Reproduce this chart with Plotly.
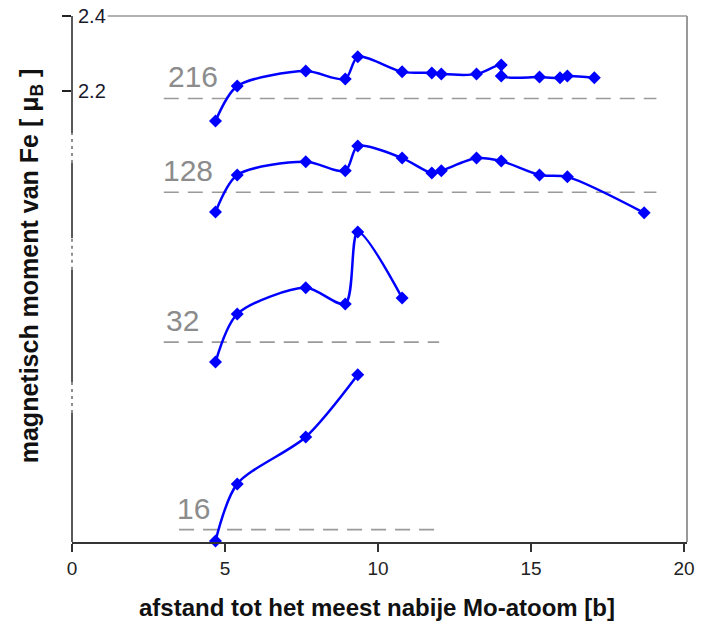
import plotly.graph_objects as go

# ---------------- data ----------------
series_names = ["216", "128", "32", "16"]

x_216 = [4.69, 5.40, 7.64, 8.93, 9.34, 10.79, 11.76, 12.07, 13.22, 14.03, 14.03, 15.28, 15.95, 16.19, 17.07]
m_216 = [2.120, 2.213, 2.253, 2.232, 2.291, 2.251, 2.248, 2.245, 2.245, 2.269, 2.240, 2.237, 2.235, 2.240, 2.235]

x_128 = [4.69, 5.40, 7.64, 8.93, 9.34, 10.79, 11.76, 12.07, 13.22, 14.03, 15.28, 16.19, 18.70]
m_128 = [2.127, 2.226, 2.261, 2.237, 2.303, 2.271, 2.231, 2.237, 2.271, 2.263, 2.226, 2.221, 2.125]

x_32 = [4.69, 5.40, 7.64, 8.93, 9.34, 10.79]
m_32 = [2.127, 2.255, 2.325, 2.282, 2.474, 2.298]

x_16 = [4.69, 5.40, 7.64, 9.34]
m_16 = [2.150, 2.302, 2.427, 2.593]

# vertical display shift of each curve on the broken axis
offsets = [0.0, 0.25, 0.65, 1.15]
# reference (bulk) moment shown as dashed line for each curve
reference_moment = 2.18
ref_x_ranges = [(3.0, 19.1), (3.0, 19.1), (3.0, 12.0), (3.5, 12.0)]
label_x = [3.07, 2.92, 3.0, 3.37]

xs = [x_216, x_128, x_32, x_16]
ms = [m_216, m_128, m_32, m_16]

y_ticks = [2.2, 2.4]
x_ticks = [0, 5, 10, 15, 20]

# axis-break positions (display units)
breaks = [(2.008, 2.088), (1.723, 1.808), (1.341, 1.424)]

Y_MIN, Y_MAX = 0.997, 2.4

BLUE = "#0000FF"
GREY = "#8c8c8c"
FONT = "Liberation Sans, Arial"

fig = go.Figure()

for name, x, m, off, (x0, x1) in zip(series_names, xs, ms, offsets, ref_x_ranges):
    ref = reference_moment - off
    fig.add_trace(go.Scatter(
        x=[x0, x1], y=[ref, ref], mode="lines",
        line=dict(color="#9a9a9a", width=1.6, dash="15px,9px"),
        hoverinfo="skip", showlegend=False))

for name, x, m, off in zip(series_names, xs, ms, offsets):
    fig.add_trace(go.Scatter(
        x=x, y=[v - off for v in m], mode="lines+markers", name=name,
        line=dict(color=BLUE, width=2.5, shape="spline", smoothing=0.8),
        marker=dict(symbol="diamond", size=10, color=BLUE),
        cliponaxis=False, showlegend=False))

annotations = []
for name, off, lx in zip(series_names, offsets, label_x):
    annotations.append(dict(
        x=lx, y=reference_moment - off, xref="x", yref="y",
        text=name, showarrow=False, xanchor="left", yanchor="bottom",
        yshift=3, font=dict(family=FONT, size=30, color=GREY)))

# y tick labels drawn just inside the axis
for v in y_ticks:
    annotations.append(dict(
        x=0, y=v, xref="paper", yref="y", text=f"{v:.1f}", showarrow=False,
        xanchor="left", yanchor="middle", xshift=4,
        font=dict(family=FONT, size=20, color="#1a1a2e")))

annotations.append(dict(
    x=-0.0676, y=0.525, xref="paper", yref="paper", textangle=-90,
    text="<b>magnetisch moment van Fe [ μ<sub>B</sub> ]</b>", showarrow=False,
    font=dict(family=FONT, size=25, color="#111"),
    xanchor="center", yanchor="middle"))
annotations.append(dict(
    x=0.496, y=-0.125, xref="paper", yref="paper",
    text="<b>afstand tot het meest nabije Mo-atoom [b]</b>", showarrow=False,
    font=dict(family=FONT, size=24, color="#111"),
    xanchor="center", yanchor="middle"))

shapes = []
# y axis line with breaks
edges = sorted([b for pair in breaks for b in pair])
solid = [(Y_MIN, edges[0]), (edges[1], edges[2]), (edges[3], edges[4]), (edges[5], Y_MAX)]
for a, b in solid:
    shapes.append(dict(type="line", xref="paper", yref="y", x0=0, x1=0, y0=a, y1=b,
                       line=dict(color="#222", width=1.5)))
for a, b in breaks:
    shapes.append(dict(type="line", xref="paper", yref="y", x0=0, x1=0, y0=a, y1=b,
                       line=dict(color="#444", width=1.2, dash="3px,4px")))
# top and right frame (grey)
shapes.append(dict(type="line", xref="paper", yref="paper", x0=0.058, x1=1, y0=1, y1=1,
                   line=dict(color="#999", width=1.5)))
shapes.append(dict(type="line", xref="paper", yref="paper", x0=1, x1=1, y0=0, y1=1,
                   line=dict(color="#999", width=2)))

fig.update_layout(
    width=706, height=630,
    margin=dict(l=72, r=13, t=16, b=88),
    paper_bgcolor="white", plot_bgcolor="white",
    showlegend=False,
    annotations=annotations,
    shapes=shapes,
    xaxis=dict(range=[0, 20.1], tickvals=x_ticks, ticks="outside", ticklen=8,
               tickwidth=1.5, tickcolor="#333", showline=True, linecolor="#333",
               linewidth=1.5, showgrid=False, zeroline=False,
               tickfont=dict(family=FONT, size=19, color="#222")),
    yaxis=dict(range=[Y_MIN, Y_MAX], tickvals=y_ticks, showticklabels=False,
               ticks="outside", ticklen=9, tickwidth=1.5, tickcolor="#222",
               showline=False, showgrid=False, zeroline=False),
)

fig.write_html("out.html")
